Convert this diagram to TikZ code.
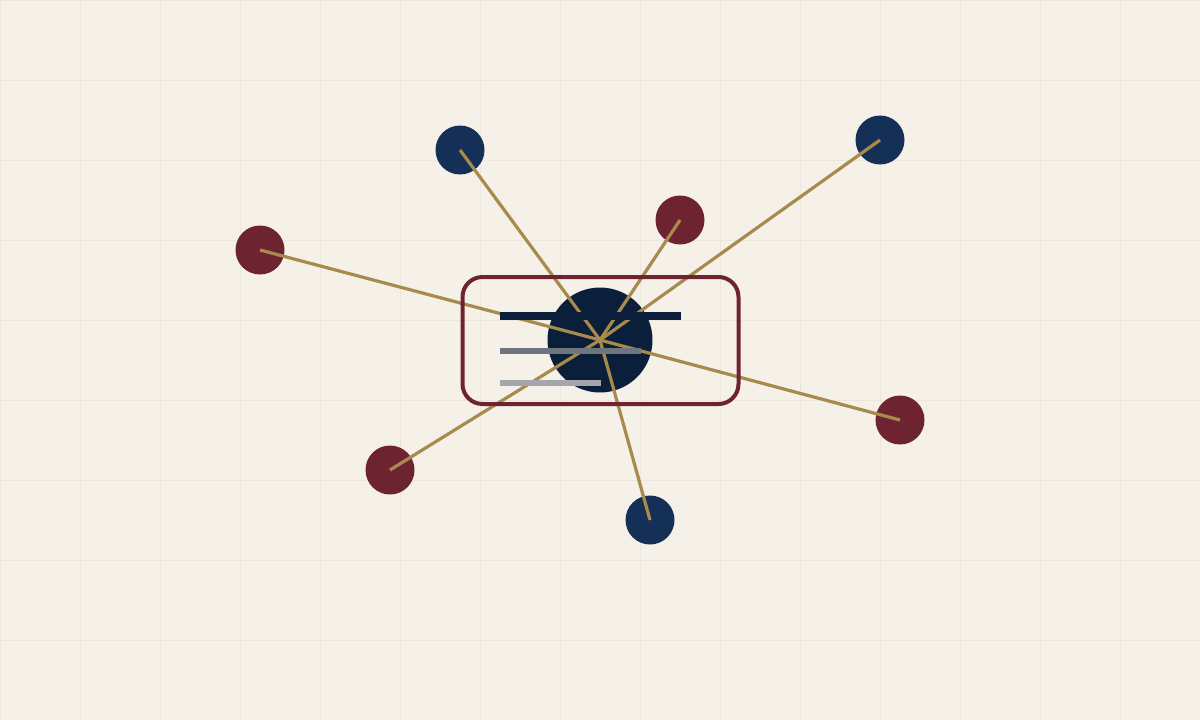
\documentclass[tikz,border=0pt]{standalone}
\begin{document}
\begin{tikzpicture}[x=1pt,y=-1pt,
  sat/.style={circle,minimum size=49pt,inner sep=0pt,draw=none},
  navysat/.style={sat,fill=satnavy},
  redsat/.style={sat,fill=satred},
  link/.style={draw=gold,line width=3.2pt},
  bar/.style={inner sep=0pt,draw=none,anchor=west}]
\definecolor{bg}{HTML}{F5F1E9}
\definecolor{gridc}{HTML}{ECE6DD}
\definecolor{satnavy}{HTML}{143056}
\definecolor{centernavy}{HTML}{0B1F3A}
\definecolor{satred}{HTML}{6E2430}
\definecolor{gold}{HTML}{A88A4C}
\definecolor{barnavy}{HTML}{0B1F3A}
\definecolor{bargray}{HTML}{6E757F}
\definecolor{barlight}{HTML}{A3A6AA}
\fill[bg] (0,0) rectangle (1200,720);
\useasboundingbox (0,0) rectangle (1200,720);
\foreach \x in {0,80,...,1200} \draw[gridc,line width=1pt] (\x,0) -- (\x,720);
\foreach \y in {0,80,...,720} \draw[gridc,line width=1pt] (0,\y) -- (1200,\y);
\node[circle,minimum size=105pt,inner sep=0pt,fill=centernavy] (hub) at (600,340) {};
\node[navysat] (n1) at (460,150) {};
\node[navysat] (n2) at (880,140) {};
\node[navysat] (n3) at (650,520) {};
\node[redsat] (r1) at (680,220) {};
\node[redsat] (r2) at (260,250) {};
\node[redsat] (r3) at (900,420) {};
\node[redsat] (r4) at (390,470) {};
\foreach \s in {n1,n2,n3,r1,r2,r3,r4} \draw[link] (hub.center) -- (\s.center);
\node[draw=satred,line width=4pt,rounded corners=20pt,minimum width=276pt,minimum height=127pt,inner sep=0pt] (card) at (600.5,340.5) {};
\node[bar,fill=barnavy,minimum width=181pt,minimum height=8pt] (b1) at (500,316) {};
\node[bar,fill=bargray,minimum width=141pt,minimum height=6pt] (b2) at (500,351) {};
\node[bar,fill=barlight,minimum width=101pt,minimum height=6pt] (b3) at (500,383) {};
\end{tikzpicture}
\end{document}
